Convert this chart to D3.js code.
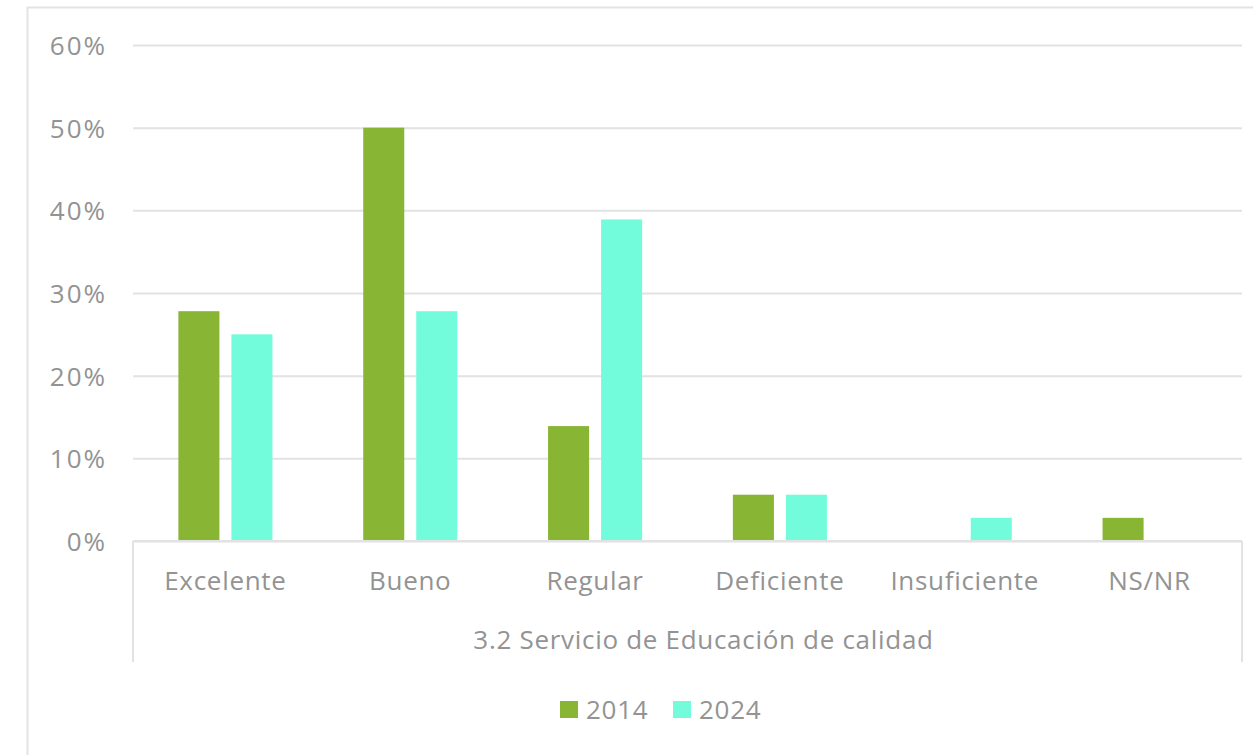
<!DOCTYPE html>
<html>
<head>
<meta charset="utf-8">
<script src="https://cdn.jsdelivr.net/npm/d3@7"></script>
<style>
  body { margin: 0; background: #fff; }
  svg text { font-family: "Open Sans", sans-serif; fill: #939393; letter-spacing: 0.7px; }
</style>
</head>
<body>
<div id="chart"></div>
<script>
// datos (porcentaje)
const categories = ['Excelente', 'Bueno', 'Regular', 'Deficiente', 'Insuficiente', 'NS/NR'];
const years = ['2014', '2024'];
const values2014 = [27.8, 50, 13.9, 5.6, 0, 2.8];
const values2024 = [25, 27.8, 38.9, 5.6, 2.8, 0];
const yTicks = [0, 10, 20, 30, 40, 50, 60];
const groupLabel = '3.2 Servicio de Educación de calidad';
const colors = ['#88b634', '#72fcdb'];

const width = 1253, height = 755;
const margins = { top: 45, left: 133, right: 11, bottom: 214 };

let svg = d3.select('#chart').append('svg')
  .attr('width', width)
  .attr('height', height);

// borde del area del grafico
svg.append('path')
  .attr('d', `M27.5,${height}V7.5H${width}`)
  .attr('fill', 'none')
  .attr('stroke', '#e3e3e3')
  .attr('stroke-width', 2);

let plotW = width - margins.left - margins.right;
let plotH = height - margins.top - margins.bottom;

let x0 = d3.scaleBand()
  .domain(categories)
  .range([margins.left, margins.left + plotW]);
let x1 = d3.scaleBand()
  .domain(years)
  .range([0, x0.bandwidth()])
  .paddingInner(0.226)
  .paddingOuter(0.856);
let y = d3.scaleLinear()
  .domain([0, 60])
  .range([margins.top + plotH, margins.top]);

// lineas de cuadricula
let yAxis = d3.axisLeft(y)
  .tickValues(yTicks)
  .tickSize(-plotW)
  .tickPadding(26)
  .tickFormat(d => d + '%');
let gY = svg.append('g')
  .attr('class', 'y axis')
  .attr('transform', `translate(${margins.left},0)`)
  .call(yAxis);
gY.select('.domain').remove();
gY.selectAll('.tick line')
  .attr('stroke', '#e2e2e2')
  .attr('stroke-width', 2);
gY.selectAll('.tick text')
  .attr('font-size', '26px')
  .attr('dy', '0.36em')
  .style('font-family', '"Open Sans", sans-serif')
  .style('letter-spacing', '2px')
  .style('fill', '#939393');

// barras
let rows = categories.map((c, i) => ({ cat: c, vals: [values2014[i], values2024[i]] }));
let groups = svg.append('g').attr('class', 'body')
  .selectAll('g')
  .data(rows)
  .join('g')
  .attr('transform', d => `translate(${x0(d.cat)},0)`);
groups.selectAll('rect')
  .data(d => d.vals.map((v, j) => ({ year: years[j], v: v, j: j })))
  .join('rect')
  .filter(d => d.v > 0)
  .attr('x', d => x1(d.year))
  .attr('width', x1.bandwidth())
  .attr('y', d => y(d.v))
  .attr('height', d => y(0) - y(d.v))
  .attr('fill', d => colors[d.j]);

// eje de categorias (multinivel)
let baseY = y(0);
let axisG = svg.append('g').attr('class', 'x axis');
axisG.append('line')
  .attr('x1', margins.left).attr('x2', margins.left + plotW)
  .attr('y1', baseY).attr('y2', baseY)
  .attr('stroke', '#e2e2e2').attr('stroke-width', 2);
[margins.left, margins.left + plotW].forEach(xx => {
  axisG.append('line')
    .attr('x1', xx).attr('x2', xx)
    .attr('y1', baseY).attr('y2', 662)
    .attr('stroke', '#e2e2e2').attr('stroke-width', 2);
});
axisG.selectAll('text.cat')
  .data(categories)
  .join('text')
  .attr('class', 'cat')
  .attr('x', d => x0(d) + x0.bandwidth() / 2)
  .attr('y', 590)
  .attr('text-anchor', 'middle')
  .attr('font-size', '26px')
  .text(d => d);
axisG.append('text')
  .attr('x', margins.left + plotW / 2 + 16)
  .attr('y', 649)
  .attr('text-anchor', 'middle')
  .attr('font-size', '26px')
  .text(groupLabel);

// leyenda
let legend = svg.append('g').attr('class', 'legend');
let legX = [560, 673];
years.forEach((yr, i) => {
  legend.append('rect')
    .attr('x', legX[i]).attr('y', 701)
    .attr('width', 18).attr('height', 17)
    .attr('fill', colors[i]);
  legend.append('text')
    .attr('x', legX[i] + 26).attr('y', 719)
    .attr('font-size', '26px')
    .text(yr);
});
</script>
</body>
</html>
